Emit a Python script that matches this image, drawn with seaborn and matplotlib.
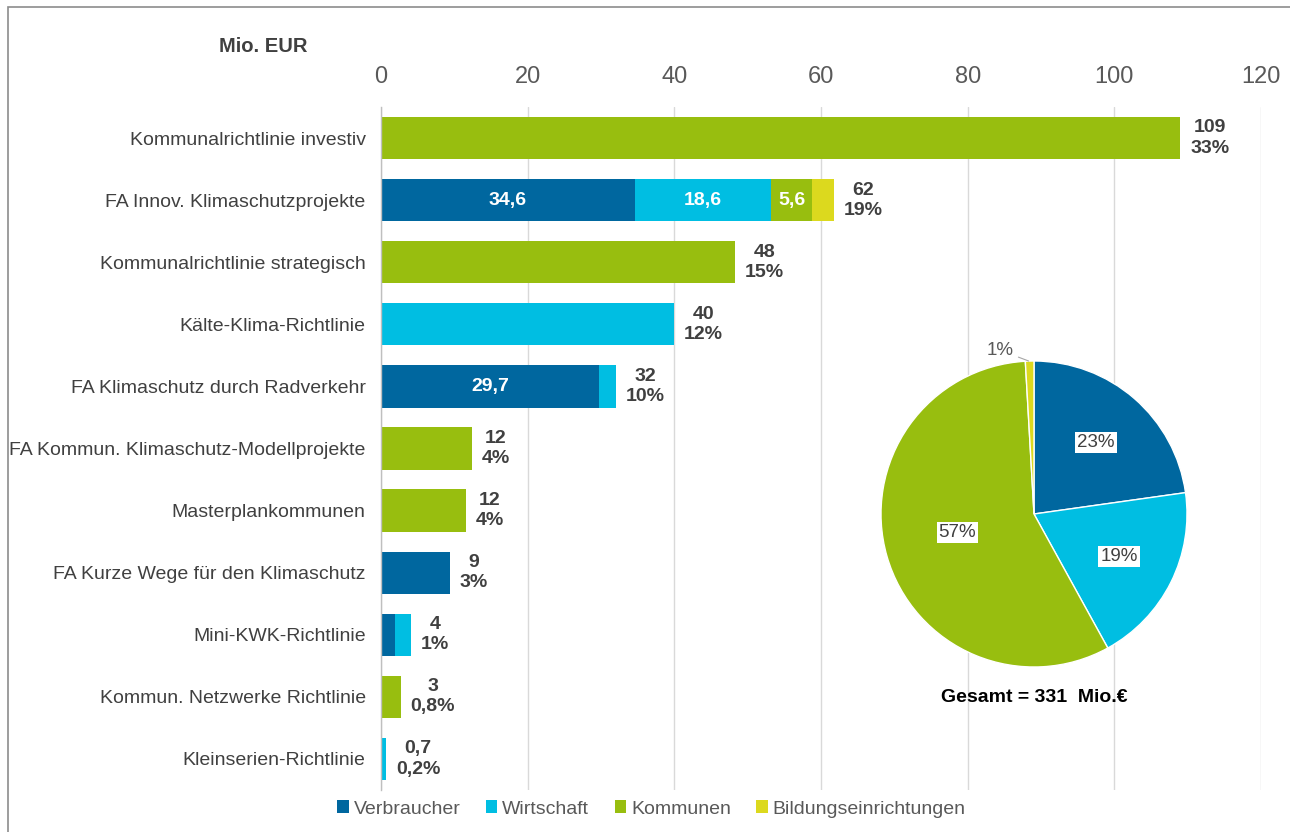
import matplotlib
matplotlib.use("Agg")
import matplotlib.pyplot as plt
from matplotlib.patches import Patch, Rectangle
import numpy as np
import pandas as pd
import seaborn as sns

# ---------------- data ----------------
categories = [
    "Kommunalrichtlinie investiv",
    "FA Innov. Klimaschutzprojekte",
    "Kommunalrichtlinie strategisch",
    "Kälte-Klima-Richtlinie",
    "FA Klimaschutz durch Radverkehr",
    "FA Kommun. Klimaschutz-Modellprojekte",
    "Masterplankommunen",
    "FA Kurze Wege für den Klimaschutz",
    "Mini-KWK-Richtlinie",
    "Kommun. Netzwerke Richtlinie",
    "Kleinserien-Richtlinie",
]
series_names = ["Verbraucher", "Wirtschaft", "Kommunen", "Bildungseinrichtungen"]
verbraucher = [0, 34.6, 0, 0, 29.7, 0, 0, 9.4, 1.9, 0, 0]
wirtschaft = [0, 18.6, 0, 40.0, 2.3, 0, 0, 0, 2.2, 0, 0.7]
kommunen = [109.0, 5.6, 48.3, 0, 0, 12.4, 11.6, 0, 0, 2.7, 0]
bildung = [0, 3.0, 0, 0, 0, 0, 0, 0, 0, 0, 0]
total_labels = ["109", "62", "48", "40", "32", "12", "12", "9", "4", "3", "0,7"]
share_labels = ["33%", "19%", "15%", "12%", "10%", "4%", "4%", "3%", "1%", "0,8%", "0,2%"]
# segments carrying a value label inside: (category index, series index)
inside_labelled = [(1, 0), (1, 1), (1, 2), (4, 0)]
x_ticks = [0, 20, 40, 60, 80, 100, 120]
total_text = "Gesamt = 331  Mio.€"
unit_text = "Mio. EUR"

colors = ["#00679f", "#00bee2", "#98be0f", "#dcd91e"]

# ---------------- style ----------------
sns.set_style("white")
plt.rcParams["font.family"] = ["Liberation Sans", "DejaVu Sans"]

W, H = 1290, 832
fig = plt.figure(figsize=(W / 100, H / 100), dpi=100)
ax = fig.add_axes([381 / W, 42 / H, 880 / W, 683 / H])

df = pd.DataFrame({
    "cat": categories,
    "Verbraucher": verbraucher,
    "Wirtschaft": wirtschaft,
    "Kommunen": kommunen,
    "Bildungseinrichtungen": bildung,
})
vals = df[series_names].to_numpy()
cum = np.cumsum(vals, axis=1)
for k in range(4):
    df[f"c{k}"] = cum[:, k]

# stacked bars: draw cumulative sums from longest to shortest
for k in [3, 2, 1, 0]:
    sns.barplot(data=df, x=f"c{k}", y="cat", orient="h", color=colors[k],
                saturation=1, width=0.68, ax=ax, linewidth=0)

ax.set_xlabel("")
ax.set_ylabel("")
ax.set_xlim(0, 120)
ax.set_ylim(len(categories) - 0.5, -0.5)
ax.set_xticks(x_ticks)
ax.xaxis.tick_top()
ax.tick_params(axis="x", length=0, pad=14, labelsize=17, labelcolor="#595959")
ax.tick_params(axis="y", length=0, pad=11, labelsize=14, labelcolor="#404040")
ax.grid(axis="x", color="#d9d9d9", linewidth=1)
ax.grid(axis="y", visible=False)
ax.set_axisbelow(True)
for s in ["top", "right", "bottom"]:
    ax.spines[s].set_visible(False)
ax.spines["left"].set_color("#bfbfbf")
ax.spines["left"].set_linewidth(1)

# total labels
totals = cum[:, 3]
for i, (t, a, b) in enumerate(zip(totals, total_labels, share_labels)):
    ax.annotate(f"{a}\n{b}", xy=(t, i), xytext=(7, 0), textcoords="offset points",
                ha="left", va="center", multialignment="center",
                fontsize=14, fontweight="bold", color="#404040", linespacing=1.25)

# inside labels
for (i, k) in inside_labelled:
    start = cum[i, k] - vals[i, k]
    ax.text(start + vals[i, k] / 2, i, f"{vals[i, k]:.1f}".replace(".", ","),
            ha="center", va="center", color="white", fontsize=14, fontweight="bold")

fig.text(263 / W, 1 - 46 / H, unit_text, ha="center", va="center",
         fontsize=14.5, fontweight="bold", color="#404040")

# ---------------- pie ----------------
pie_vals = vals.sum(axis=0)
cx, cy, r = 1034, 514, 153
pax = fig.add_axes([(cx - r) / W, (H - cy - r) / H, 2 * r / W, 2 * r / H])
pax.patch.set_alpha(0)
wedges, texts, autotexts = pax.pie(
    pie_vals, colors=colors, startangle=90, counterclock=False,
    autopct="%.0f%%", pctdistance=0.62,
    wedgeprops=dict(edgecolor="white", linewidth=1),
    textprops=dict(fontsize=13.5, color="#404040"))
pax.set_xlim(-1, 1)
pax.set_ylim(-1, 1)
for t in autotexts[:3]:
    t.set_bbox(dict(facecolor="white", edgecolor="none", pad=1.5))
autotexts[2].set_position((-0.5, -0.12))
# small slice label outside with leader line
small = autotexts[3]
small_txt = small.get_text()
small.set_visible(False)
pax.annotate(small_txt, xy=(-0.035, 1.0), xytext=(-0.22, 1.07),
             ha="center", va="center", fontsize=13.5, color="#595959",
             arrowprops=dict(arrowstyle="-", color="#a6a6a6", lw=0.8,
                             shrinkA=1, shrinkB=0))

fig.text(cx / W, 1 - 697 / H, total_text, ha="center", va="center",
         fontsize=14, fontweight="bold", color="black")

# ---------------- legend ----------------
handles = [Patch(facecolor=c, edgecolor="none", label=n) for c, n in zip(colors, series_names)]
leg = fig.legend(handles=handles, loc="center", bbox_to_anchor=(0.505, 1 - 809 / H),
                 ncol=4, frameon=False, fontsize=14, handlelength=0.6, handleheight=0.6,
                 handletextpad=0.25, columnspacing=1.3)
for t in leg.get_texts():
    t.set_color("#595959")

# outer frame
fig.add_artist(Rectangle((8 / W, -0.05), 1.1, (H - 7) / H + 0.05,
                         transform=fig.transFigure, fill=False,
                         edgecolor="#8c8c8c", linewidth=1.2))

fig.savefig("out.png", dpi=100)
